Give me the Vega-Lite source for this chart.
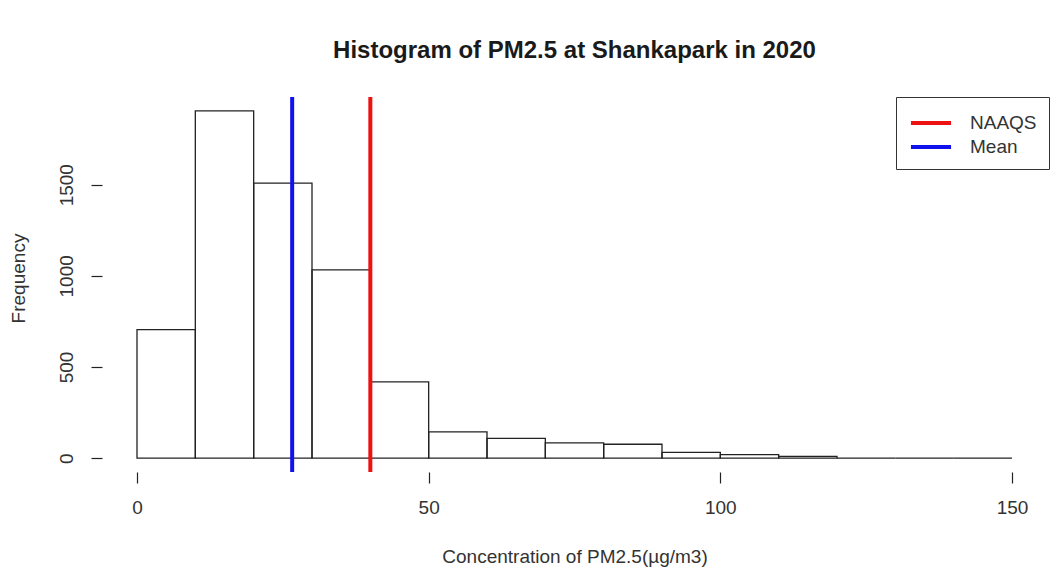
{
  "$schema": "https://vega.github.io/schema/vega-lite/v6.json",
  "width": 945,
  "height": 375,
  "autosize": {"type": "none"},
  "padding": {"left": 102, "top": 97, "right": 9, "bottom": 104},
  "background": "white",
  "config": {
    "font": "Liberation Sans",
    "view": {"stroke": null},
    "axis": {"grid": false}
  },
  "title": {
    "text": "Histogram of PM2.5 at Shankapark in 2020",
    "fontSize": 24,
    "fontWeight": "bold",
    "color": "#1a1a1a",
    "anchor": "middle",
    "frame": "group",
    "baseline": "alphabetic",
    "offset": 13
  },
  "datasets": {
    "bins": [
      {"bin_start": 0, "bin_end": 10, "count": 705},
      {"bin_start": 10, "bin_end": 20, "count": 1905},
      {"bin_start": 20, "bin_end": 30, "count": 1509},
      {"bin_start": 30, "bin_end": 40, "count": 1033},
      {"bin_start": 40, "bin_end": 50, "count": 418},
      {"bin_start": 50, "bin_end": 60, "count": 144},
      {"bin_start": 60, "bin_end": 70, "count": 108},
      {"bin_start": 70, "bin_end": 80, "count": 84},
      {"bin_start": 80, "bin_end": 90, "count": 76},
      {"bin_start": 90, "bin_end": 100, "count": 32},
      {"bin_start": 100, "bin_end": 110, "count": 19},
      {"bin_start": 110, "bin_end": 120, "count": 10},
      {"bin_start": 120, "bin_end": 130, "count": 0},
      {"bin_start": 130, "bin_end": 140, "count": 0},
      {"bin_start": 140, "bin_end": 150, "count": 0}
    ],
    "lines": [
      {"label": "NAAQS", "value": 40},
      {"label": "Mean", "value": 26.6}
    ]
  },
  "layer": [
    {
      "data": {"name": "bins"},
      "mark": {"type": "rect", "fill": null, "fillOpacity": 0, "stroke": "#222222", "strokeWidth": 1.3},
      "encoding": {
        "x": {
          "field": "bin_start",
          "type": "quantitative",
          "scale": {"domain": [-6, 156], "nice": false, "zero": false},
          "axis": {
            "values": [0, 50, 100, 150],
            "format": "d",
            "domain": false,
            "tickSize": 11,
            "tickColor": "#222222",
            "tickWidth": 1.2,
            "labelFontSize": 19,
            "labelColor": "#333333",
            "labelPadding": 15,
            "labelFlush": false,
            "title": "Concentration of PM2.5(µg/m3)",
            "titleFontSize": 19,
            "titleFontWeight": "normal",
            "titleColor": "#333333",
            "titleBaseline": "middle",
            "titleY": 84
          }
        },
        "x2": {"field": "bin_end"},
        "y": {
          "field": "count",
          "type": "quantitative",
          "scale": {"domain": [-76.2, 1981.2], "nice": false, "zero": false},
          "axis": {
            "values": [0, 500, 1000, 1500],
            "format": "d",
            "domain": false,
            "tickSize": 11,
            "tickColor": "#222222",
            "tickWidth": 1.2,
            "labelFontSize": 19,
            "labelColor": "#333333",
            "labelAngle": -90,
            "labelAlign": "center",
            "labelBaseline": "middle",
            "labelPadding": 25,
            "labelFlush": false,
            "title": "Frequency",
            "titleFontSize": 19,
            "titleFontWeight": "normal",
            "titleColor": "#333333",
            "titleAngle": -90,
            "titleAlign": "center",
            "titleBaseline": "middle",
            "titleX": -84,
            "titleY": 181
          }
        },
        "y2": {"datum": 0}
      }
    },
    {
      "mark": {"type": "rule", "color": "#222222", "strokeWidth": 1.2},
      "encoding": {
        "x": {"datum": 0, "type": "quantitative"},
        "x2": {"datum": 150},
        "y": {"datum": -76.2, "type": "quantitative"}
      }
    },
    {
      "mark": {"type": "rule", "color": "#222222", "strokeWidth": 1.2},
      "encoding": {
        "x": {"datum": -6, "type": "quantitative"},
        "y": {"datum": 0, "type": "quantitative"},
        "y2": {"datum": 1500}
      }
    },
    {
      "data": {"name": "lines"},
      "mark": {"type": "rule", "strokeWidth": 4},
      "encoding": {
        "x": {"field": "value", "type": "quantitative"},
        "color": {
          "field": "label",
          "type": "nominal",
          "scale": {"domain": ["NAAQS", "Mean"], "range": ["#ee1111", "#1111ee"]},
          "legend": {
            "title": null,
            "orient": "none",
            "legendX": 794,
            "legendY": 0,
            "strokeColor": "#333333",
            "fillColor": "white",
            "padding": 12,
            "rowPadding": 0,
            "symbolType": "M-0.92,0H2.42",
            "symbolSize": 576,
            "symbolStrokeWidth": 4,
            "labelFontSize": 19,
            "labelColor": "#333333",
            "labelOffset": 34
          }
        }
      }
    }
  ]
}
